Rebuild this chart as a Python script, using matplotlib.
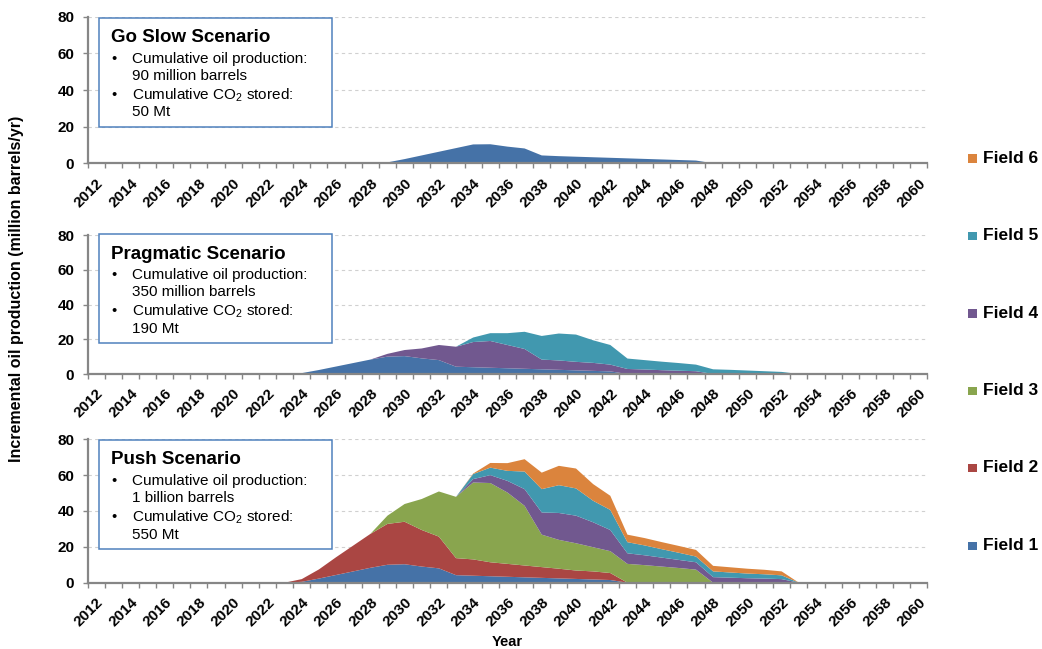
import matplotlib
matplotlib.use('Agg')
import matplotlib.pyplot as plt
import numpy as np
from matplotlib.patches import Rectangle

plt.rcParams['font.family'] = ['Liberation Sans', 'DejaVu Sans']
plt.rcParams['mathtext.fontset'] = 'custom'
plt.rcParams['mathtext.rm'] = 'Liberation Sans'
plt.rcParams['mathtext.default'] = 'regular'

# ---- data (million barrels/yr), values for 2023..2053, zero elsewhere ----
years = list(range(2012, 2061))
span_start = 2023

field_names = ['Field 1', 'Field 2', 'Field 3', 'Field 4', 'Field 5', 'Field 6']
field_colors = ['#4572A7', '#AA4643', '#89A54E', '#71588F', '#4198AF', '#DB843D']

# Go Slow
goslow_f1 = [0, 0, 0, 0, 0, 0, 0.5, 2.3, 4.3, 6.3, 8.3, 10.3, 10.4, 9.1, 8.1, 4.3,
             3.9, 3.6, 3.3, 3.0, 2.7, 2.4, 2.1, 1.8, 1.5, 0, 0, 0, 0, 0, 0]

# Pragmatic
prag_f1 = [0, 0.5, 2.3, 4.3, 6.3, 8.3, 10.0, 10.3, 9.0, 8.0, 4.2, 3.9, 3.6, 3.3, 3.0, 2.7,
           2.4, 2.1, 1.8, 1.5, 0, 0, 0, 0, 0, 0, 0, 0, 0, 0, 0]
prag_f4 = [0, 0, 0, 0, 0, 0, 1.6, 3.5, 5.7, 8.7, 11.5, 14.5, 15.4, 13.4, 11.4, 5.6,
           5.4, 4.9, 4.6, 3.9, 2.9, 2.6, 2.2, 1.9, 1.6, 0, 0, 0, 0, 0, 0]
prag_f5 = [0, 0, 0, 0, 0, 0, 0, 0, 0, 0, 0, 2.6, 4.5, 6.8, 9.9, 13.6,
           15.5, 15.7, 13.0, 11.3, 6.0, 5.4, 4.9, 4.4, 3.8, 2.7, 2.4, 2.0, 1.6, 1.2, 0]

# Push
push_f1 = [0, 0.5, 2.3, 4.3, 6.3, 8.3, 10.0, 10.3, 9.0, 8.0, 4.2, 3.9, 3.6, 3.3, 3.0, 2.7,
           2.4, 2.1, 1.8, 1.5, 0, 0, 0, 0, 0, 0, 0, 0, 0, 0, 0]
push_f2 = [0, 1.5, 5.1, 9.9, 14.4, 18.9, 22.8, 23.7, 20.4, 17.7, 9.5, 9.1, 7.8, 7.2, 6.6, 6.0,
           5.4, 4.7, 4.5, 3.9, 0, 0, 0, 0, 0, 0, 0, 0, 0, 0, 0]
push_f3 = [0, 0, 0, 0, 0, 0, 4.6, 9.9, 17.3, 25.2, 34.2, 42.9, 44.2, 39.8, 33.3, 18.1,
           16.1, 15.2, 13.5, 12.2, 10.5, 9.8, 9.0, 8.2, 7.3, 0, 0, 0, 0, 0, 0]
push_f4 = [0, 0, 0, 0, 0, 0, 0, 0, 0, 0, 0, 1.9, 4.4, 6.5, 9.3, 12.4,
           15.0, 15.4, 13.9, 11.8, 5.9, 5.5, 5.0, 4.5, 4.1, 3.1, 2.8, 2.5, 2.3, 2.0, 0]
push_f5 = [0, 0, 0, 0, 0, 0, 0, 0, 0, 0, 0, 2.8, 4.2, 5.6, 9.8, 13.0,
           15.5, 15.2, 12.0, 11.2, 6.2, 5.5, 4.7, 4.0, 3.2, 3.2, 2.9, 2.6, 2.4, 2.1, 0]
push_f6 = [0, 0, 0, 0, 0, 0, 0, 0, 0, 0, 0, 0.3, 2.6, 4.3, 6.9, 9.2,
           10.8, 11.1, 9.3, 7.9, 4.2, 4.1, 3.95, 3.8, 3.7, 3.1, 2.9, 2.7, 2.5, 2.2, 0]

scenario_titles = ['Go Slow Scenario', 'Pragmatic Scenario', 'Push Scenario']
scenario_oil = ['90 million barrels', '350 million barrels', '1 billion barrels']
scenario_co2 = ['50 Mt', '190 Mt', '550 Mt']


def full(vals):
    out = np.zeros(len(years))
    i0 = years.index(span_start)
    out[i0:i0 + len(vals)] = vals
    return out


zeros = [0] * 31
scenarios = [
    [goslow_f1, zeros, zeros, zeros, zeros, zeros],
    [prag_f1, zeros, zeros, prag_f4, prag_f5, zeros],
    [push_f1, push_f2, push_f3, push_f4, push_f5, push_f6],
]

W, H = 1042, 649
fig = plt.figure(figsize=(W / 100, H / 100), dpi=100)

# axes boxes in pixels: (y of 80, y of 0)
panels = [(16.7, 163.3), (235.0, 374.0), (439.3, 582.7)]
x_left, x_right = 87.5, 927.4
axis_grey = '#868686'


def fx(px):
    return px / W


def fy(py):
    return 1 - py / H


for k, (ytop, ybot) in enumerate(panels):
    ax = fig.add_axes([fx(x_left), fy(ybot), fx(x_right - x_left), (ybot - ytop) / H])
    stacks = [full(v) for v in scenarios[k]]
    ax.stackplot(years, *stacks, colors=field_colors, linewidth=0)

    ax.set_xlim(2011.5, 2060.5)
    ax.set_ylim(0, 80)
    ax.set_yticks([0, 20, 40, 60, 80])
    ax.set_yticklabels(['0', '20', '40', '60', '80'], fontsize=11, fontweight='bold')
    for g in [20, 40, 60, 80]:
        ax.axhline(g, color='#D0D0D0', lw=0.8, ls=(0, (3, 3)), zorder=0)

    ax.set_xticks(np.arange(2011.5, 2061, 1))
    ax.set_xticklabels([])
    ax.set_xticks(years[::2], minor=True)
    ax.set_xticklabels([str(y) for y in years[::2]], minor=True, rotation=45,
                       ha='right', va='top', rotation_mode='anchor',
                       fontsize=11, fontweight='bold')
    ax.tick_params(axis='x', which='minor', length=0, pad=9)
    ax.tick_params(axis='both', which='major', length=3.5, width=1, color=axis_grey,
                   direction='out')
    ax.tick_params(axis='y', pad=6)

    for s in ['top', 'right']:
        ax.spines[s].set_visible(False)
    for s in ['left', 'bottom']:
        ax.spines[s].set_color(axis_grey)
        ax.spines[s].set_linewidth(1.6)

    # scenario text box
    btop = ytop + 1 if k == 0 else ytop - 1 if k == 1 else ytop + 0.7
    bx0, bx1, bh = 99.0, 331.7, 109.0
    fig.add_artist(Rectangle((fx(bx0), fy(btop + bh)), fx(bx1 - bx0), bh / H,
                             transform=fig.transFigure, facecolor='white',
                             edgecolor='#4F81BD', lw=1.1, zorder=5))
    fig.text(fx(110.7), fy(btop + 24.5), scenario_titles[k], fontsize=13.5,
             fontweight='bold', va='baseline', zorder=6)
    lines = [('\u2022', 'Cumulative oil production:'), ('', scenario_oil[k]),
             ('\u2022', 'Cumulative CO$_2$ stored:'), ('', scenario_co2[k])]
    offs = [45.0, 62.3, 81.4, 98.8]
    for (b, t), o in zip(lines, offs):
        if b:
            fig.text(fx(111.5), fy(btop + o), b, fontsize=10.5, va='baseline', zorder=6)
        fig.text(fx(131.7), fy(btop + o), t, fontsize=11, va='baseline', zorder=6)

# legend on the right, Field 6 at top
leg_y = [545.7, 467.7, 390.7, 313.3, 236.0, 158.6]
for name, col, yc in zip(field_names, field_colors, leg_y):
    fig.add_artist(Rectangle((fx(968.3), fy(yc + 4.2)), fx(8.4), 8.4 / H,
                             transform=fig.transFigure, facecolor=col,
                             edgecolor='none'))
    fig.text(fx(983), fy(yc), name, fontsize=12.5, fontweight='bold',
             va='center', ha='left')

fig.text(fx(17), fy(289), 'Incremental oil production (million barrels/yr)',
         rotation=90, fontsize=11.5, fontweight='bold', ha='center', va='center')
fig.text(fx(507), fy(642), 'Year', fontsize=10.5, fontweight='bold',
         ha='center', va='center')

fig.savefig('out.png', dpi=100)
